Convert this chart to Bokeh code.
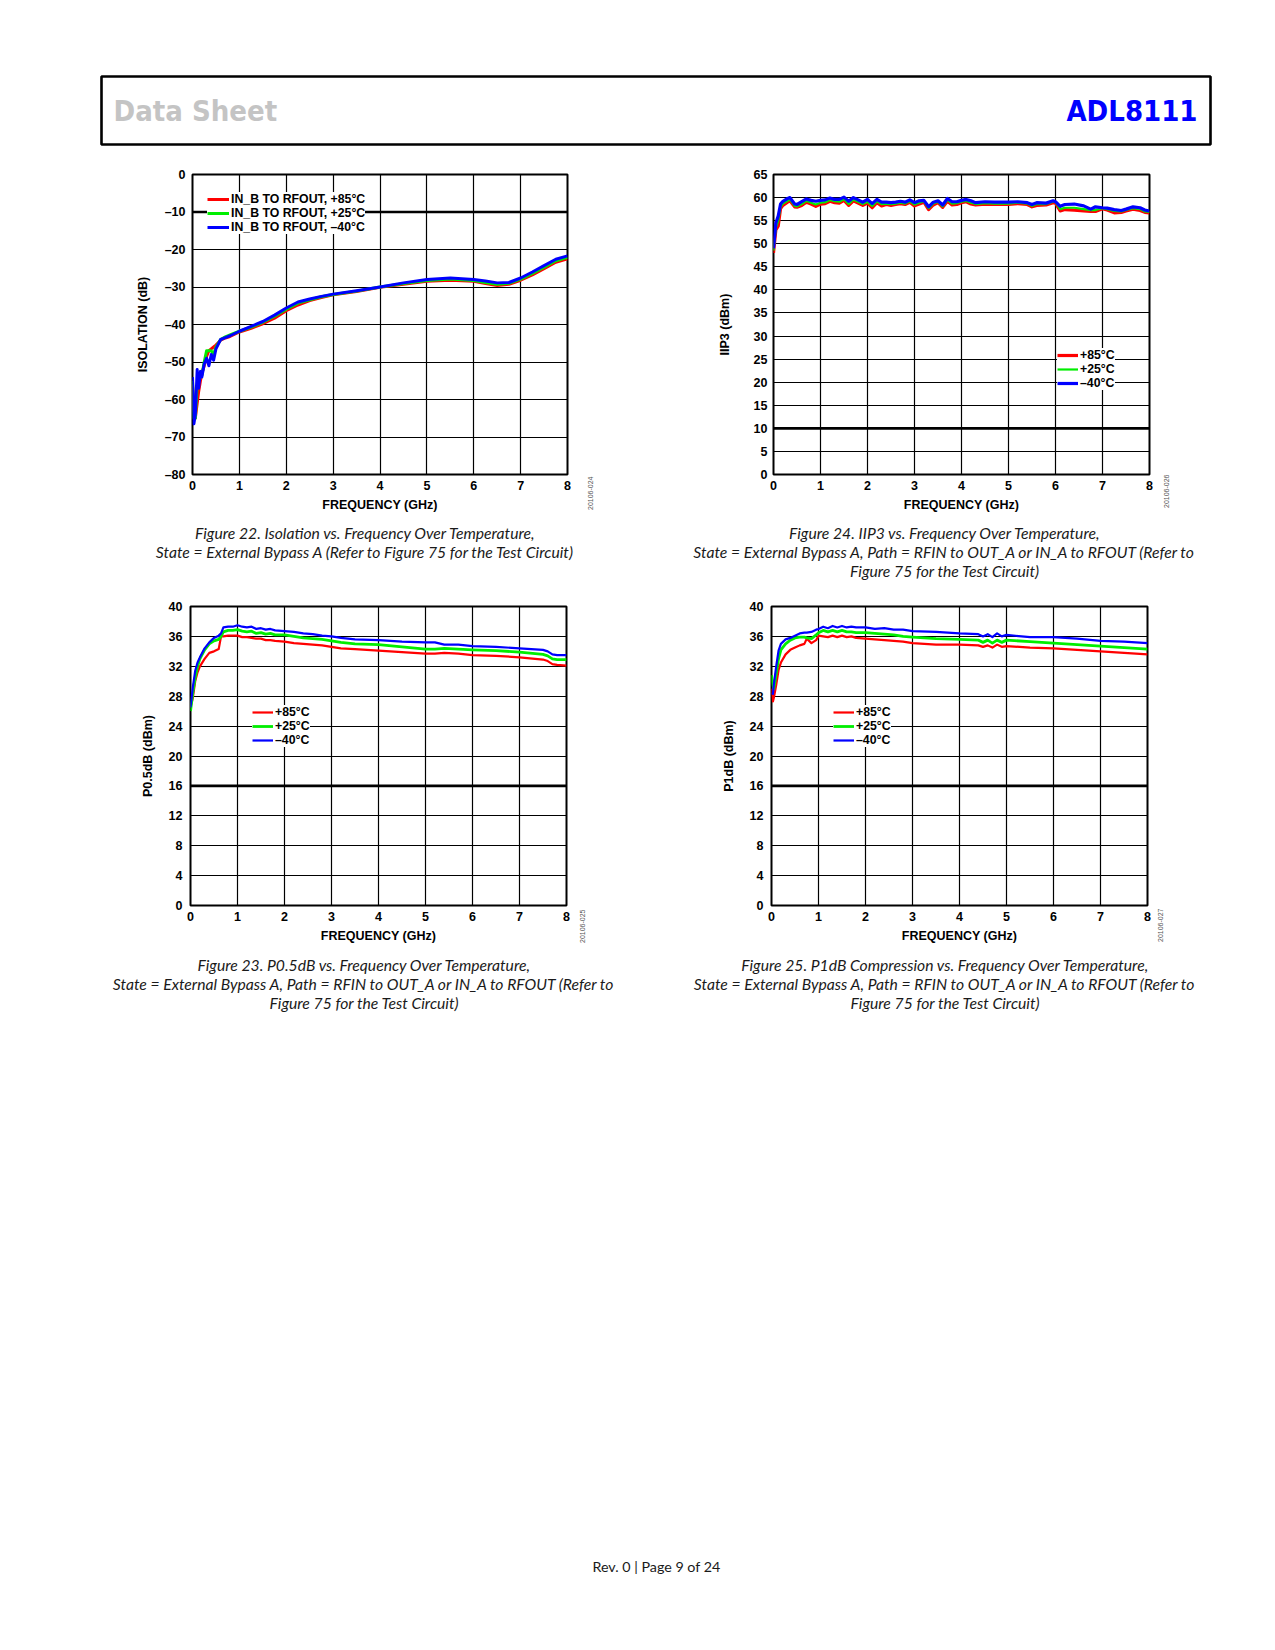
import math
from bokeh.plotting import figure
from bokeh.models import Range1d, FixedTicker, Label, Legend, LegendItem, Span, Spacer
from bokeh.layouts import column, row
from bokeh.embed import file_html
from bokeh.resources import INLINE

# ---------------- data ----------------
freq_iso = [0.0, 0.03, 0.06, 0.1, 0.13, 0.17, 0.2, 0.25, 0.3, 0.35,
            0.4, 0.45, 0.5, 0.6, 0.7, 0.8, 1.0, 1.25, 1.5, 1.75,
            2.0, 2.25, 2.5, 2.75, 3.0, 3.5, 4.0, 4.5, 5.0, 5.5,
            6.0, 6.25, 6.5, 6.75, 7.0, 7.25, 7.5, 7.75, 8.0]
iso_p85 = [-56, -63, -65, -61, -58, -55, -53, -51, -48.5, -47,
           -46.5, -46, -45.5, -44.2, -43.6, -43.2, -42, -41, -39.8, -38.3,
           -36.3, -34.8, -33.6, -32.8, -32.1, -31.2, -30.1, -29.3, -28.5, -28.2,
           -28.5, -29.1, -29.6, -29.3, -28.2, -26.8, -25.1, -23.4, -22.5]
iso_p25 = [-55, -65, -65, -56, -55, -54, -53.5, -50, -47, -47,
           -47, -48, -46, -44, -43.3, -42.8, -41.8, -40.7, -39.4, -37.8,
           -35.9, -34.3, -33.4, -32.6, -32, -31.1, -30, -29.1, -28.3, -27.9,
           -28.3, -28.8, -29.3, -29, -27.9, -26.4, -24.7, -23, -22.1]
iso_m40 = [-54, -66.5, -64, -52, -57, -52.5, -54, -50.5, -49, -51,
           -48, -49.5, -46.5, -44, -43.5, -43, -41.8, -40.5, -39.2, -37.5,
           -35.6, -34, -33.2, -32.5, -31.9, -31, -30, -28.9, -28, -27.6,
           -28, -28.4, -28.9, -28.8, -27.6, -26, -24.3, -22.6, -21.7]

freq_iip3 = [0.0, 0.05, 0.1, 0.15, 0.2,
             0.3, 0.35, 0.45, 0.5, 0.6,
             0.7, 0.8, 0.9, 1.0, 1.1,
             1.2, 1.3, 1.4, 1.5, 1.6,
             1.7, 1.8, 1.9, 2.0, 2.1,
             2.2, 2.3, 2.4, 2.5, 2.6,
             2.7, 2.8, 2.9, 3.0, 3.1,
             3.2, 3.3, 3.4, 3.5, 3.6,
             3.7, 3.8, 3.9, 4.0, 4.1,
             4.2, 4.3, 4.5, 4.7, 5.0,
             5.2, 5.4, 5.5, 5.6, 5.8,
             5.95, 6.0, 6.1, 6.2, 6.4,
             6.6, 6.75, 6.85, 7.0, 7.1,
             7.25, 7.4, 7.5, 7.65, 7.8,
             7.9, 8.0]
iip3_p85 = [48.0, 53.0, 53.8, 57.6, 58.3,
            59.0, 59.3, 58.0, 57.9, 58.3,
            59.0, 58.6, 58.1, 58.6, 58.7,
            59.2, 58.9, 58.8, 59.4, 58.3,
            59.3, 58.8, 58.3, 58.8, 57.8,
            58.9, 58.2, 58.5, 58.3, 58.5,
            58.7, 58.5, 59.0, 58.2, 58.6,
            59.0, 57.4, 58.4, 58.9, 57.9,
            59.2, 58.4, 58.5, 58.9, 59.1,
            58.6, 58.4, 58.6, 58.5, 58.5,
            58.7, 58.5, 58.0, 58.3, 58.4,
            58.9, 58.8, 57.1, 57.4, 57.3,
            57.1, 57.0, 57.0, 57.6, 57.3,
            56.7, 56.8, 57.1, 57.5, 57.2,
            56.8, 56.7]
iip3_p25 = [48.5, 53.5, 55.0, 58.0, 58.7,
            59.3, 59.6, 58.2, 58.1, 58.6,
            59.3, 58.9, 58.5, 58.9, 59.0,
            59.5, 59.2, 59.1, 59.7, 58.6,
            59.6, 59.1, 58.6, 59.1, 58.2,
            59.2, 58.6, 58.7, 58.6, 58.7,
            58.9, 58.7, 59.2, 58.5, 58.9,
            59.2, 57.7, 58.7, 59.1, 58.1,
            59.5, 58.7, 58.8, 59.1, 59.3,
            58.9, 58.6, 58.8, 58.7, 58.7,
            58.9, 58.7, 58.2, 58.6, 58.6,
            59.1, 59.0, 57.5, 57.8, 57.8,
            57.5, 57.3, 57.3, 57.7, 57.5,
            57.1, 57.0, 57.3, 57.7, 57.5,
            57.0, 56.9]
iip3_m40 = [49.0, 54.5, 56.0, 58.6, 59.2,
            59.8, 60.0, 58.6, 58.5, 59.1,
            59.7, 59.4, 59.2, 59.4, 59.5,
            59.9, 59.6, 59.6, 60.1, 59.2,
            60.0, 59.5, 59.0, 59.6, 58.7,
            59.6, 59.0, 59.0, 58.9, 59.0,
            59.2, 59.0, 59.5, 58.9, 59.3,
            59.4, 58.0, 59.0, 59.3, 58.4,
            59.8, 59.1, 59.1, 59.4, 59.6,
            59.3, 58.9, 59.1, 59.0, 59.0,
            59.1, 58.9, 58.5, 58.9, 58.8,
            59.3, 59.1, 58.1, 58.5, 58.6,
            58.2, 57.5, 58.0, 57.8, 57.7,
            57.4, 57.2, 57.5, 58.0, 57.8,
            57.3, 57.1]

freq_p05 = [0.0, 0.05, 0.1, 0.15, 0.2, 0.3, 0.4, 0.5, 0.6, 0.65,
            0.7, 0.8, 0.9, 1.0, 1.1, 1.2, 1.3, 1.4, 1.5, 1.6,
            1.7, 1.8, 2.0, 2.2, 2.4, 2.6, 2.8, 3.0, 3.2, 3.5,
            4.0, 4.5, 5.0, 5.2, 5.4, 5.7, 6.0, 6.5, 7.0, 7.5,
            7.6, 7.7, 7.8, 8.0]
p05_p85 = [26.5, 27.8, 30.0, 31.2, 32.0, 33.0, 33.8, 34.0, 34.3, 36.0,
           36.0, 36.1, 36.1, 36.1, 35.9, 35.9, 35.8, 35.7, 35.7, 35.5,
           35.5, 35.4, 35.3, 35.1, 35.0, 34.9, 34.8, 34.6, 34.4, 34.3,
           34.1, 33.9, 33.7, 33.7, 33.8, 33.7, 33.5, 33.4, 33.2, 32.9,
           32.7, 32.3, 32.2, 32.1]
p05_p25 = [26.0, 28.5, 30.5, 32.0, 33.0, 34.2, 35.0, 35.4, 35.6, 36.0,
           36.6, 36.8, 36.8, 36.9, 36.7, 36.6, 36.7, 36.4, 36.5, 36.3,
           36.4, 36.2, 36.2, 36.0, 35.8, 35.7, 35.6, 35.4, 35.2, 35.0,
           34.9, 34.6, 34.3, 34.3, 34.4, 34.3, 34.2, 34.1, 33.9, 33.6,
           33.4, 33.0, 32.9, 32.9]
p05_m40 = [26.5, 29.2, 31.4, 32.5, 33.2, 34.4, 35.2, 35.8, 36.1, 36.4,
           37.2, 37.3, 37.3, 37.5, 37.3, 37.2, 37.3, 37.0, 37.1, 36.9,
           37.0, 36.8, 36.7, 36.6, 36.4, 36.3, 36.1, 36.0, 35.8, 35.6,
           35.5, 35.3, 35.2, 35.2, 34.9, 34.9, 34.7, 34.6, 34.4, 34.2,
           34.0, 33.6, 33.5, 33.5]

freq_p1 = [0.0, 0.03, 0.05, 0.1, 0.15, 0.2, 0.3, 0.4, 0.5, 0.6,
           0.7, 0.75, 0.85, 0.95, 1.0, 1.1, 1.2, 1.3, 1.4, 1.5,
           1.6, 1.7, 1.8, 2.0, 2.2, 2.4, 2.6, 2.8, 3.0, 3.5,
           4.0, 4.4, 4.5, 4.6, 4.7, 4.8, 4.9, 5.0, 5.5, 6.0,
           6.5, 7.0, 7.5, 8.0]
p1_p85 = [29.0, 27.3, 27.8, 29.5, 31.5, 32.5, 33.6, 34.2, 34.5, 34.8,
          35.0, 35.7, 35.1, 35.5, 36.1, 36.0, 35.9, 36.1, 35.9, 36.1,
          35.9, 36.0, 35.8, 35.7, 35.6, 35.5, 35.4, 35.3, 35.1, 34.9,
          34.9, 34.8, 34.6, 34.8, 34.5, 34.9, 34.6, 34.7, 34.5, 34.4,
          34.2, 34.0, 33.8, 33.6]
p1_p25 = [30.8, 29.5, 29.0, 31.0, 33.0, 34.2, 35.0, 35.5, 35.8, 35.9,
          35.9, 35.8, 35.7, 36.2, 36.5, 36.8, 36.6, 36.8, 36.6, 36.8,
          36.6, 36.6, 36.5, 36.5, 36.4, 36.3, 36.2, 36.0, 35.9, 35.7,
          35.6, 35.5, 35.2, 35.5, 35.1, 35.5, 35.2, 35.5, 35.3, 35.1,
          34.9, 34.7, 34.5, 34.3]
p1_m40 = [28.5, 28.3, 29.6, 32.0, 34.1, 35.0, 35.6, 35.8, 36.1, 36.4,
          36.5, 36.5, 36.6, 36.9, 37.0, 37.3, 37.1, 37.4, 37.2, 37.4,
          37.2, 37.3, 37.2, 37.2, 37.0, 37.1, 36.9, 36.9, 36.7, 36.6,
          36.4, 36.3, 36.0, 36.3, 35.9, 36.4, 36.0, 36.2, 35.9, 35.9,
          35.7, 35.4, 35.3, 35.1]

x_ticks = [0, 1, 2, 3, 4, 5, 6, 7, 8]
iso_ticks = [-80, -70, -60, -50, -40, -30, -20, -10, 0]
iip3_ticks = [0, 5, 10, 15, 20, 25, 30, 35, 40, 45, 50, 55, 60, 65]
pwr_ticks = [0, 4, 8, 12, 16, 20, 24, 28, 32, 36, 40]

temp_labels = ["+85°C", "+25°C", "–40°C"]
iso_labels = ["IN_B TO RFOUT, +85°C", "IN_B TO RFOUT, +25°C", "IN_B TO RFOUT, –40°C"]
colors = ["#ff0000", "#00ee00", "#0000ff"]

cap22 = ["Figure 22. Isolation vs. Frequency Over Temperature,",
         "State = External Bypass A (Refer to Figure 75 for the Test Circuit)"]
cap24 = ["Figure 24. IIP3 vs. Frequency Over Temperature,",
         "State = External Bypass A, Path = RFIN to OUT_A or IN_A to RFOUT (Refer to",
         "Figure 75 for the Test Circuit)"]
cap23 = ["Figure 23. P0.5dB vs. Frequency Over Temperature,",
         "State = External Bypass A, Path = RFIN to OUT_A or IN_A to RFOUT (Refer to",
         "Figure 75 for the Test Circuit)"]
cap25 = ["Figure 25. P1dB Compression vs. Frequency Over Temperature,",
         "State = External Bypass A, Path = RFIN to OUT_A or IN_A to RFOUT (Refer to",
         "Figure 75 for the Test Circuit)"]

AX_FONT = "Liberation Sans"
CAP_FONT = "Lato"
HEAD_FONT = "DejaVu Sans Condensed"
AX_SIZE = "12.5px"


def fmt(v):
    return ("–" + str(-v)) if v < 0 else str(v)


def blank(W, H):
    f = figure(width=W, height=H, x_range=Range1d(0, 1), y_range=Range1d(0, 1),
               x_axis_type=None, y_axis_type=None, output_backend="svg",
               toolbar_location=None, title_location=None,
               min_border_left=0, min_border_right=0, min_border_top=0, min_border_bottom=0)
    f.outline_line_color = None
    f.grid.visible = False
    return f


def caption_fig(lines, W, H, cx, y0):
    f = blank(W, H)
    for i, t in enumerate(lines):
        f.add_layout(Label(x=cx, y=y0 - 19 * i, x_units="screen", y_units="screen",
                           text=t, text_align="center", text_baseline="middle",
                           text_font=CAP_FONT, text_font_style="italic",
                           text_font_size="15.7px", text_color="#1a1a1a"))
    return f


def id_fig(text, H, pos, standoff):
    # narrow figure sharing the chart's frame height; its bottom axis carries
    # the vertical drawing number as a rotated tick label
    f = figure(width=20, height=H, x_range=Range1d(0, 1), y_range=Range1d(0, 1),
               y_axis_type=None, output_backend="svg", toolbar_location=None,
               title_location=None, min_border_left=0, min_border_right=0,
               min_border_top=0, min_border_bottom=0)
    f.outline_line_color = None
    f.grid.visible = False
    ax = f.xaxis[0]
    ax.ticker = FixedTicker(ticks=[pos])
    ax.major_label_overrides = {pos: text}
    ax.major_label_orientation = math.pi / 2
    ax.axis_line_color = None
    ax.major_tick_out = 0
    ax.major_tick_in = 0
    ax.minor_tick_out = 0
    ax.minor_tick_in = 0
    ax.major_label_standoff = standoff
    ax.major_label_text_font = AX_FONT
    ax.major_label_text_font_size = "7px"
    ax.major_label_text_color = "#555555"
    return f


def chart(freq, ys, labels, widths, yr, yticks, ylabel, W, H, bl, br, bt, bb,
          ytick_sd, ylab_sd, thick_y, leg_xy, glyph_w):
    p = figure(width=W, height=H, x_range=Range1d(0, 8), y_range=Range1d(*yr),
               output_backend="svg", toolbar_location=None, title_location=None,
               min_border_left=bl, min_border_right=br, min_border_top=bt,
               min_border_bottom=bb)
    p.outline_line_color = "black"
    p.outline_line_width = 2
    p.xaxis.ticker = FixedTicker(ticks=x_ticks)
    p.yaxis.ticker = FixedTicker(ticks=yticks)
    p.xgrid.ticker = FixedTicker(ticks=x_ticks)
    p.ygrid.ticker = FixedTicker(ticks=yticks)
    p.yaxis.major_label_overrides = {t: fmt(t) for t in yticks}
    p.grid.grid_line_color = "black"
    p.grid.grid_line_width = 1.2
    for ax in (p.xaxis[0], p.yaxis[0]):
        ax.axis_line_color = None
        ax.major_tick_out = 0
        ax.major_tick_in = 0
        ax.minor_tick_out = 0
        ax.minor_tick_in = 0
        ax.major_label_text_font = AX_FONT
        ax.major_label_text_font_style = "bold"
        ax.major_label_text_font_size = AX_SIZE
        ax.major_label_text_color = "black"
        ax.axis_label_text_font = AX_FONT
        ax.axis_label_text_font_style = "bold"
        ax.axis_label_text_font_size = AX_SIZE
        ax.axis_label_text_color = "black"
    p.xaxis.axis_label = "FREQUENCY (GHz)"
    p.xaxis.major_label_standoff = 6
    p.xaxis.axis_label_standoff = 5
    p.yaxis.axis_label = ylabel
    p.yaxis.major_label_standoff = ytick_sd
    p.yaxis.axis_label_standoff = ylab_sd

    p.add_layout(Span(location=thick_y, dimension="width", line_color="black",
                      line_width=2.6, level="underlay"))

    rends = []
    for y, c, w in zip(ys, colors, widths):
        rends.append(p.line(freq, y, line_color=c, line_width=w, line_join="round"))

    leg = Legend(items=[LegendItem(label=l, renderers=[r]) for l, r in zip(labels, rends)],
                 location=leg_xy, orientation="vertical", spacing=0, padding=2,
                 margin=0, glyph_width=glyph_w, glyph_height=12, label_height=12,
                 label_standoff=2, border_line_color=None,
                 background_fill_color="white", background_fill_alpha=1.0,
                 label_text_font=AX_FONT, label_text_font_style="bold",
                 label_text_font_size="12.3px", label_text_color="black")
    p.add_layout(leg)
    return p


# top row: charts span y 146..520, captions 520..585
c22 = chart(freq_iso, [iso_p85, iso_p25, iso_m40], iso_labels, [3, 3, 3],
            (-80, 0), iso_ticks, "ISOLATION (dB)", 490, 374, 102, 13, 28, 46,
            7, 12, -10, (15, 240), 22)
c24 = chart(freq_iip3, [iip3_p85, iip3_p25, iip3_m40], temp_labels, [3.2, 2.2, 3.2],
            (0, 65), iip3_ticks, "IIP3 (dBm)", 476, 374, 93, 7, 28, 46,
            6, 19, 10, (284, 84), 21)
# bottom row: charts span y 585..951, captions 951..1016
c23 = chart(freq_p05, [p05_p85, p05_p25, p05_m40], temp_labels, [2.2, 2.8, 2.2],
            (0, 40), pwr_ticks, "P0.5dB (dBm)", 486, 366, 100, 10, 21, 46,
            8, 11, 16, (62, 158), 21)
c25 = chart(freq_p1, [p1_p85, p1_p25, p1_m40], temp_labels, [2.2, 2.8, 2.2],
            (0, 40), pwr_ticks, "P1dB (dBm)", 474, 366, 91, 7, 21, 46,
            8, 11, 16, (62, 158), 21)

cell22 = column(row(c22, id_fig("20106-024", 374, 0.5, 2)),
                caption_fig(cap22, 560, 65, 275, 53))
cell24 = column(row(c24, id_fig("20106-026", 374, 0.475, 0)),
                caption_fig(cap24, 560, 65, 264.5, 53))
cell23 = column(row(c23, id_fig("20106-025", 366, 0.285, 4)),
                caption_fig(cap23, 560, 65, 274, 52))
cell25 = column(row(c25, id_fig("20106-027", 366, 0.3, 3)),
                caption_fig(cap25, 560, 65, 265, 52))

# ---------------- header ----------------
hdr = figure(width=1113, height=72, x_range=Range1d(0, 1), y_range=Range1d(0, 1),
             x_axis_type=None, y_axis_type=None, output_backend="svg",
             toolbar_location=None, title_location=None,
             min_border_left=2, min_border_right=2, min_border_top=2, min_border_bottom=2)
hdr.outline_line_color = "black"
hdr.outline_line_width = 2.6
hdr.grid.visible = False
hdr.add_layout(Label(x=12, y=33.5, x_units="screen", y_units="screen", text="Data Sheet",
                     text_align="left", text_baseline="middle", text_font=HEAD_FONT,
                     text_font_style="bold", text_font_size="29px", text_color="#c4c4c4"))
hdr.add_layout(Label(x=1096, y=33.5, x_units="screen", y_units="screen", text="ADL8111",
                     text_align="right", text_baseline="middle", text_font=HEAD_FONT,
                     text_font_style="bold", text_font_size="29px", text_color="#0000ff"))

# ---------------- footer ----------------
ftr = blank(400, 30)
ftr.add_layout(Label(x=200, y=14, x_units="screen", y_units="screen",
                     text="Rev. 0 | Page 9 of 24", text_align="center",
                     text_baseline="middle", text_font=CAP_FONT,
                     text_font_size="14.3px", text_color="#1a1a1a"))

page = column(
    Spacer(width=1, height=74),
    row(Spacer(width=99, height=1), hdr),
    row(Spacer(width=90, height=1), cell22, Spacer(width=30, height=1), cell24),
    row(Spacer(width=90, height=1), cell23, Spacer(width=30, height=1), cell25),
    Spacer(width=1, height=534),
    row(Spacer(width=456, height=1), ftr),
)

open("out.html", "w").write(file_html(page, INLINE))
